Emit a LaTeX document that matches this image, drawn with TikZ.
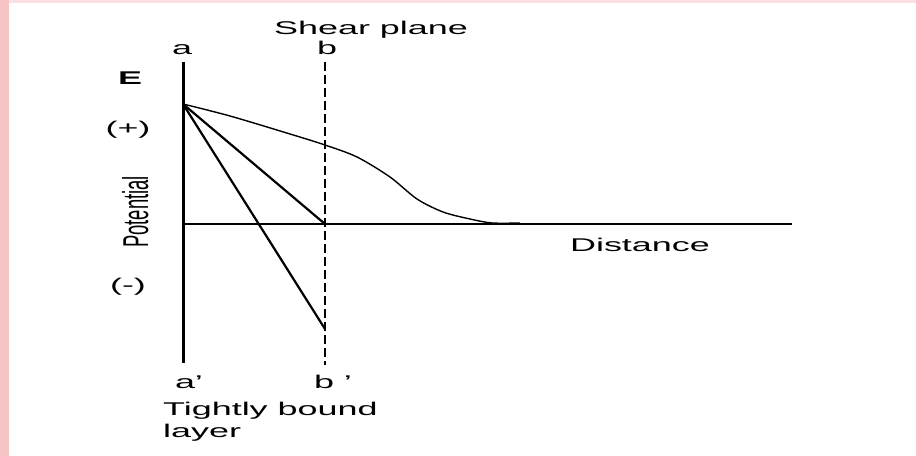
\documentclass[tikz,border=0pt]{standalone}
\usepackage{fontspec}
\setmainfont{Liberation Sans}
\usepackage{graphicx}
\usepackage{xcolor}
\definecolor{frame}{RGB}{246,196,196}
\definecolor{frametop}{RGB}{250,224,224}
\newcommand{\wide}[1]{\scalebox{1.95}[1]{#1}}
\newcommand{\tall}[1]{\scalebox{1}[1.95]{#1}}

\begin{document}
\begin{tikzpicture}[
  x=1bp, y=-1bp,
  font=\fontsize{18.5}{23}\selectfont,
  lbl/.style={inner sep=0pt, anchor=base},
  wall/.style={line width=3bp},
  shearline/.style={line width=2.4bp, dash pattern=on 9bp off 4bp},
  axisline/.style={line width=1.5bp},
  potline/.style={line width=2.2bp},
  curveline/.style={line width=1.4bp}]
\useasboundingbox (0,0) rectangle (916,456);
\fill[frametop] (0,0) rectangle (916,3);
\fill[frame] (0,0) rectangle (9,456);
% reference points
\coordinate (atop) at (183,62);
\coordinate (abot) at (183,363);
\coordinate (btop) at (325,62);
\coordinate (bbot) at (325,365);
\coordinate (e0) at (183,104);
\coordinate (b0) at (325,224);
\coordinate (bneg) at (325,329);
\coordinate (xend) at (792,224);
% walls and axis
\draw[wall] (atop) -- (abot);
\draw[shearline] (btop) -- (bbot);
\draw[axisline] (e0 |- b0) -- (xend);
% potential drops
\draw[potline] (e0) -- (b0);
\draw[potline] (e0) -- (bneg);
\draw[curveline] plot[smooth] coordinates {(e0) (230,116) (290,134) (325,145)
  (357,157) (390,177) (417,199) (443,212) (470,219) (492,223) (520,223)};
% labels
\node[lbl] (shear) at (371,35) {\wide{Shear plane}};
\node[lbl] (la) at (182,55) {\wide{a}};
\node[lbl] (lb) at (327,55) {\wide{b}};
\node[lbl, font=\fontsize{18.5}{23}\selectfont\bfseries] (le) at (130,85) {\wide{E}};
\node[lbl] (lplus) at (128,135) {\wide{(+)}};
\node[lbl] (lminus) at (128,292) {\wide{(-)}};
\node[lbl, rotate=90] (lpot) at (148,212) {\tall{Potential}};
\node[lbl] (ldist) at (640,252) {\wide{Distance}};
\node[lbl] (lap) at (189,388) {\wide{a'}};
\node[lbl] (lbp) at (333,388) {\wide{b '}};
\node[lbl, anchor=base west] (layer) at (163,415)
  {\wide{\begin{tabular}[t]{@{}l@{}}Tightly bound\\layer\end{tabular}}};
\end{tikzpicture}
\end{document}
